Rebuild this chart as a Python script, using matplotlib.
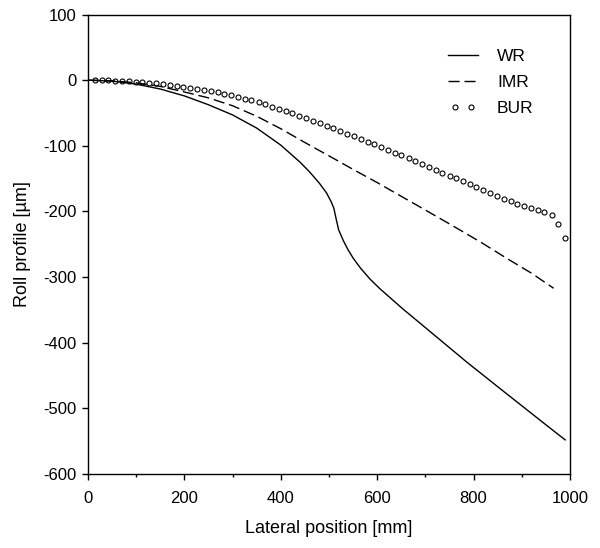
import matplotlib
matplotlib.use('Agg')
import matplotlib.pyplot as plt
from matplotlib.ticker import MultipleLocator
from matplotlib.legend_handler import HandlerLine2D

plt.rcParams['font.family'] = ['Liberation Sans', 'DejaVu Sans']
plt.rcParams['axes.unicode_minus'] = False

# WR (work roll) profile
wr_x = [0, 50, 100, 150, 200, 250, 300, 350, 400, 440, 460, 480, 495, 505, 510,
        515, 520, 530, 540, 550, 565, 585, 606, 654, 700, 785, 850, 900, 950, 990]
wr_y = [0, -1.5, -6, -13.5, -24, -37.5, -53, -73, -99, -125, -140, -157, -172, -186, -195,
        -212, -228, -245, -259, -271, -286, -303, -318, -349, -377, -429, -467, -496, -525, -548]

# IMR (intermediate roll) profile
imr_x = [0, 50, 100, 150, 200, 250, 300, 350, 400, 450, 509, 550, 600, 650, 686,
         750, 813, 870, 920, 966]
imr_y = [0, -1, -4, -9.5, -18, -27, -39, -55, -74, -95, -119, -136, -156, -177, -192,
         -219, -246, -272, -294, -317]

# BUR (backup roll) profile, one value per plotted circle
bur_x = [14, 28, 42, 57, 71, 85, 99, 113, 127, 141, 156, 170, 184, 198, 212, 226, 240, 255,
         269, 283, 297, 311, 325, 339, 354, 368, 382, 396, 410, 424, 438, 453, 467, 481, 495,
         509, 523, 537, 551, 566, 580, 594, 608, 622, 636, 650, 665, 679, 693, 707, 721, 735,
         750, 764, 778, 792, 806, 820, 834, 849, 863, 877, 891, 905, 919, 933, 947, 962, 976, 990]
bur_y = [0, -0.2, -0.4, -0.8, -1.3, -1.8, -2.5, -3.2, -4.0, -5.0, -6.1, -7.2, -8.5, -9.8,
         -11.2, -12.8, -14.4, -16.3, -18.3, -20.4, -22.8, -25.3, -28.0, -30.8, -33.9, -37.0,
         -40.2, -43.6, -47.0, -50.6, -54.2, -58.0, -61.8, -65.6, -69.5, -73.4, -77.4, -81.4,
         -85.4, -89.6, -93.7, -97.8, -102.0, -106.2, -110.4, -114.6, -119.1, -123.4, -127.7,
         -132.0, -136.4, -140.8, -145.4, -149.8, -154.2, -158.6, -163.0, -167.3, -171.6,
         -176.2, -180.3, -184.2, -188.0, -191.6, -195.0, -198.3, -201.6, -206, -219, -240]

fig = plt.figure(figsize=(6.0, 5.48), dpi=100)
ax = fig.add_axes([0.1467, 0.135, 0.8033, 0.8385])

ax.plot(wr_x, wr_y, color='black', lw=1.0, label='WR')
ax.plot(imr_x, imr_y, color='black', lw=1.0, dashes=(8, 3.5), label='IMR')
bur_line, = ax.plot(bur_x, bur_y, linestyle='none', marker='o', ms=3.6, mfc='none',
                    mec='black', mew=0.8, label='BUR')

ax.set_xlim(0, 1000)
ax.set_ylim(-600, 100)
ax.xaxis.set_major_locator(MultipleLocator(200))
ax.xaxis.set_minor_locator(MultipleLocator(100))
ax.yaxis.set_major_locator(MultipleLocator(100))

ax.tick_params(which='both', direction='out', top=False, right=False, width=1.0)
ax.tick_params(axis='x', which='major', length=4.3, pad=8, labelsize=12)
ax.tick_params(axis='x', which='minor', length=2.4)
ax.tick_params(axis='y', which='major', length=4.0, pad=4, labelsize=12)
for sp in ax.spines.values():
    sp.set_linewidth(1.0)

ax.set_xlabel('Lateral position [mm]', fontsize=13, labelpad=10)
ax.set_ylabel('Roll profile [\u00b5m]', fontsize=13, labelpad=9)

ax.legend(loc='upper left', bbox_to_anchor=(0.737, 0.925), frameon=False,
          fontsize=12.5, numpoints=2, handlelength=2.3, handletextpad=0.8,
          labelspacing=0.62, borderaxespad=0, borderpad=0,
          handler_map={bur_line: HandlerLine2D(numpoints=2, marker_pad=0.7)})

fig.savefig('out.png', dpi=100, facecolor='white')
